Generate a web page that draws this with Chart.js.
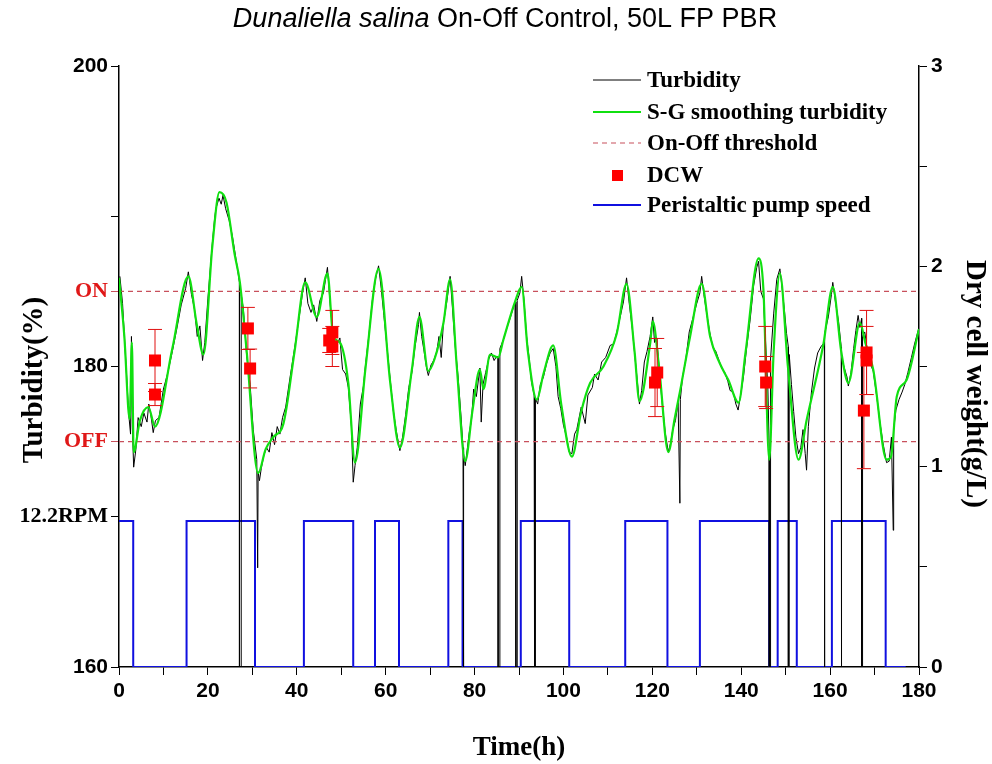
<!DOCTYPE html>
<html>
<head>
<meta charset="utf-8">
<script src="https://cdn.jsdelivr.net/npm/chart.js@4.4.1/dist/chart.umd.min.js"></script>
<style>
html, body { margin: 0; padding: 0; background: #fff; }
#wrap { width: 992px; height: 764px; position: relative; }
</style>
</head>
<body>
<div id="wrap"><canvas id="chart"></canvas></div>
<script>
// S-G smoothed turbidity (%)
var sgTime = [0, 1.2, 2.4, 2.9, 3.3, 4.7, 6.6, 8.1, 12, 15.6, 17.5, 19, 21, 22.6, 24.2, 26, 27.2, 28.7, 31.3, 33, 34.7, 37, 39.5, 41.9, 44.5, 46.9, 48.2, 49.7, 51.6, 53.1, 55.5, 58.4, 61, 63.2, 65.9, 67.6, 69.6, 71, 73, 74.5, 76, 77.9, 79.5, 81.2, 82, 83.5, 85.3, 86.5, 89.1, 90.6, 92, 94, 95.5, 97.7, 99.5, 101.9, 104, 106, 109, 112, 114.2, 116, 117.1, 119.5, 120.1, 121.5, 123.6, 125, 126.2, 128.5, 131.1, 133, 135.2, 137.1, 139.4, 141, 143.9, 145, 146.3, 147.3, 148.7, 150.5, 152.9, 154.7, 158.5, 160.6, 162.5, 164.1, 166.7, 168, 169.7, 172.7, 173.7, 175, 177.2, 180];
var sgTurb = [185.9, 182, 176.5, 181.6, 174.3, 176.4, 177.3, 176.0, 181.2, 186.0, 182.8, 180.8, 188, 191.6, 190.9, 187.5, 185.6, 181.1, 172.9, 174.5, 175.3, 176.2, 181, 185.6, 183.3, 186.2, 182.0, 181.6, 178.9, 173.6, 180, 186.5, 179, 174.6, 179.8, 183.3, 179.7, 180.5, 182.9, 185.8, 180, 173.7, 177, 179.8, 178.5, 180.8, 180.6, 181.8, 184.3, 185.3, 181, 177.8, 179.5, 181.4, 177.5, 174.0, 177, 178.9, 180.0, 182.2, 185.5, 181, 177.7, 181.5, 183.0, 180, 174.3, 176.5, 178.3, 182, 185.5, 182, 180.2, 179.1, 177.6, 181, 187.2, 185.1, 173.8, 181, 186.2, 180, 173.8, 176.4, 181.5, 185.3, 181, 178.9, 182.9, 181.5, 179.8, 173.8, 174, 178, 179.1, 182.5];

// raw turbidity (%), with the short sensor drop-outs
var rawTime = [0.2, 0.8, 1.5, 2.2, 2.6, 2.8, 3.0, 3.3, 3.8, 4.3, 5.0, 5.6, 6.3, 6.7, 7.2, 7.7, 8.2, 9, 10, 11, 12, 13, 14, 15, 15.6, 16.3, 17, 17.6, 18.2, 18.8, 19.3, 20, 21, 21.5, 21.8, 22.5, 23, 23.4, 24, 24.8, 25.5, 26.3, 26.9, 27.1, 27.1, 27.5, 27.5, 28, 28.7, 29.5, 30.2, 31.0, 31.2, 31.3, 31.6, 32, 32.6, 33.2, 33.8, 34.4, 35, 35.6, 36.2, 36.8, 37.5, 38.5, 39.5, 40.5, 41.3, 41.9, 42.5, 43.2, 43.8, 44.5, 45.2, 46, 46.9, 47.5, 48.2, 48.8, 49.7, 50.3, 51, 51.6, 52.3, 52.7, 53.1, 53.6, 54.3, 55, 55.5, 56.3, 57, 57.7, 58.4, 59, 59.6, 60.3, 61, 61.7, 62.4, 63.2, 63.8, 64.5, 65.2, 65.9, 66.6, 67.4, 67.6, 68.1, 68.6, 69.2, 69.6, 70.2, 70.8, 71.5, 72, 72.5, 73, 73.8, 74.5, 75, 75.6, 76.3, 77, 77.4, 77.4, 77.6, 77.6, 77.9, 78.4, 78.8, 79.3, 79.8, 80.4, 81.2, 81.5, 81.9, 82.5, 83.2, 83.8, 84.4, 85.0, 85.3, 85.3, 85.7, 85.7, 86.5, 87.3, 88, 88.6, 89.1, 89.3, 89.3, 89.6, 89.6, 90.2, 90.6, 91.1, 91.7, 92.3, 92.8, 93.4, 93.5, 93.7, 93.7, 94.2, 94.8, 95.5, 96.2, 97, 97.7, 98.3, 98.8, 99.4, 100, 100.7, 101.3, 101.9, 102.5, 103, 104, 104.9, 105.5, 106.5, 107, 107.8, 108.6, 109.5, 110.5, 111.3, 112, 112.7, 113.5, 114.2, 114.8, 115.5, 116.1, 116.7, 117.1, 117.6, 118.2, 118.8, 119.5, 120.1, 120.5, 121, 121.5, 122.2, 122.9, 123.6, 124.1, 124.6, 125.2, 125.8, 126.2, 126.3, 126.8, 127.5, 128.3, 129.2, 130, 130.7, 131.1, 131.6, 132.2, 132.9, 133.6, 134.3, 135, 135.6, 136.3, 137, 137.5, 138.2, 138.8, 139.3, 139.8, 140.5, 141.2, 142, 142.8, 143.5, 143.9, 144.4, 145, 145.5, 146, 146.3, 146.3, 146.6, 146.6, 147.3, 148, 148.7, 149.2, 149.7, 150.2, 150.6, 150.6, 150.8, 150.8, 151.3, 151.8, 152.3, 152.9, 153.4, 153.9, 154.4, 154.7, 155.1, 155.8, 156.5, 157.2, 157.9, 158.7, 158.7, 158.8, 158.8, 159.6, 160.3, 160.6, 161.2, 161.9, 162.5, 162.5, 162.6, 162.6, 163.2, 163.8, 164.1, 164.7, 165.3, 165.8, 166.3, 166.7, 167.1, 167.1, 167.3, 167.3, 167.8, 168.4, 169, 169.7, 170.5, 171.2, 171.9, 172.7, 173.3, 173.8, 174.2, 174.3, 174.8, 175.5, 176.2, 176.8, 177.5, 178.3, 179, 180];
var rawTurb = [186.0, 184.2, 180.5, 176.8, 175.5, 182.0, 176.0, 173.3, 174.5, 176.6, 176.0, 176.9, 176.3, 177.5, 176.7, 175.6, 176.4, 176.6, 178.5, 179.6, 181.0, 182.5, 184.1, 185.2, 186.3, 184.8, 183.8, 182.0, 182.7, 180.4, 181.6, 184.5, 188.2, 189.8, 190.5, 191.2, 190.8, 191.4, 190.5, 189.7, 188.7, 187.2, 186.0, 185.6, 160, 160, 184.8, 183.8, 180.8, 178.8, 175.8, 173.8, 166.6, 173.0, 172.4, 173.2, 174.1, 174.6, 174.3, 175.6, 174.8, 176.0, 175.5, 176.6, 177.3, 179.3, 181.2, 183.2, 184.9, 185.9, 184.2, 183.6, 184.1, 183.0, 184.4, 184.9, 186.6, 184.2, 182.0, 181.3, 181.9, 179.8, 179.5, 178.6, 176.0, 172.3, 173.4, 174.6, 177.5, 178.7, 180.2, 182.3, 184.4, 185.8, 186.7, 185.2, 183.4, 181.3, 179.2, 177.1, 175.7, 174.4, 175.3, 176.8, 178.6, 179.6, 181.3, 182.8, 183.6, 182.0, 181.1, 179.9, 179.4, 180.1, 180.4, 181.0, 182.0, 180.6, 182.9, 184.4, 186.0, 184.0, 181.5, 179.3, 176.5, 174.6, 160, 160, 174.2, 173.4, 174.6, 175.6, 176.4, 178.5, 178.0, 179.9, 176.3, 178.8, 179.6, 180.5, 180.9, 180.4, 180.7, 180.6, 160, 160, 181.2, 181.8, 182.6, 183.2, 183.8, 184.3, 184.3, 160, 160, 184.4, 184.9, 186.0, 184.5, 182.0, 180.5, 179.0, 178.1, 160, 160, 177.9, 177.5, 178.8, 179.3, 180.2, 180.9, 181.2, 180.0, 178.0, 177.2, 176.1, 175.3, 174.3, 174.2, 175.5, 175.8, 177.3, 176.2, 178.1, 178.6, 179.5, 179.1, 180.3, 180.6, 181.4, 181.5, 182.3, 183.2, 184.3, 185.9, 184.2, 182.5, 180.6, 178.8, 177.5, 178.4, 180.3, 181.0, 182.0, 183.3, 181.6, 181.9, 180.0, 177.6, 175.6, 174.3, 174.9, 175.8, 176.4, 177.6, 170.9, 177.8, 179.3, 180.4, 182.3, 183.3, 184.2, 184.9, 186.0, 184.8, 183.6, 182.3, 181.3, 181.0, 180.4, 179.9, 179.6, 179.0, 178.4, 178.3, 177.5, 177.1, 178.0, 179.3, 181.2, 183.1, 185.4, 186.6, 187.0, 185.0, 184.5, 181.5, 178.5, 174.5, 160, 160, 180.5, 183.5, 185.8, 186.5, 185.2, 183.8, 182.2, 181.3, 160, 160, 180.8, 178.8, 177.0, 175.3, 174.2, 174.6, 175.8, 174.2, 173.1, 176.0, 178.3, 179.9, 180.9, 181.3, 181.6, 160, 160, 182.2, 183.3, 184.8, 185.6, 184.3, 183.0, 181.3, 160, 160, 180.6, 179.9, 179.3, 178.7, 179.6, 181.2, 182.4, 183.4, 182.6, 183.2, 160, 160, 182.0, 182.3, 181.0, 180.2, 179.7, 178.0, 176.3, 174.9, 173.6, 173.7, 175.3, 169.1, 175.8, 177.1, 177.8, 178.3, 178.8, 179.6, 180.6, 181.5, 182.6];

// On-Off thresholds (%)
var onLevel = 185;
var offLevel = 175;

// dry cell weight (g/L) with error
var dcwTime = [8.1, 8.1, 29.0, 29.5, 47.3, 48.0, 48.0, 120.6, 121.1, 145.4, 145.6, 167.6, 168.2, 168.2];
var dcwValue = [1.53, 1.36, 1.69, 1.49, 1.63, 1.67, 1.60, 1.42, 1.47, 1.50, 1.42, 1.28, 1.57, 1.53];
var dcwError = [0.155, 0.055, 0.105, 0.097, 0.06, 0.11, 0.10, 0.17, 0.17, 0.20, 0.13, 0.29, 0.21, 0.17];

// peristaltic pump speed (RPM), value holds until next time
var pumpTime = [0, 3.2, 15.2, 30.6, 41.6, 52.7, 57.6, 63.0, 74.1, 77.3, 90.4, 101.3, 113.9, 123.4, 130.7, 146.3, 148.2, 152.5, 160.4, 172.5, 177];
var pumpRpm = [12.2, 0, 12.2, 0, 12.2, 0, 12.2, 0, 12.2, 0, 12.2, 0, 12.2, 0, 12.2, 0, 12.2, 0, 12.2, 0, 0];

// left axis ticks and their labels
var leftTicks = [160, 170, 175, 180, 185, 190, 200];
var leftLabels = ['160', '12.2RPM', 'OFF', '180', 'ON', '', '200'];

var serif = '"Liberation Serif", "Times New Roman", serif';
var narrow = '"Liberation Sans Narrow", "Arial Narrow", "Liberation Sans", Arial, sans-serif';
var sans = '"Liberation Sans", Arial, sans-serif';

function pts(xs, ys) {
    return xs.map(function(x, i) { return {x: x, y: ys[i]}; });
}

function tickVal(c) {
    return c && c.tick ? c.tick.value : null;
}

var errorBars = {
    id: 'errorBars',
    beforeDatasetDraw: function(chart, args) {
        var ds = chart.data.datasets[args.index];
        if (!ds.errors) return;
        var ctx = chart.ctx;
        var xs = chart.scales.x, ys = chart.scales[ds.yAxisID];
        ctx.save();
        ctx.strokeStyle = '#e01010';
        ctx.lineWidth = 1;
        ds.data.forEach(function(p, i) {
            var px = xs.getPixelForValue(p.x);
            var top = ys.getPixelForValue(p.y + ds.errors[i]);
            var bot = ys.getPixelForValue(p.y - ds.errors[i]);
            ctx.beginPath();
            ctx.moveTo(px, top); ctx.lineTo(px, bot);
            ctx.moveTo(px - 7, top); ctx.lineTo(px + 7, top);
            ctx.moveTo(px - 7, bot); ctx.lineTo(px + 7, bot);
            ctx.stroke();
        });
        ctx.restore();
    }
};

var textLayer = {
    id: 'textLayer',
    afterDraw: function(chart) {
        var ctx = chart.ctx;
        ctx.save();
        // title with italic species name
        var a = 'Dunaliella salina', b = ' On-Off Control, 50L FP PBR';
        ctx.fillStyle = '#000';
        ctx.textBaseline = 'alphabetic';
        ctx.font = 'italic 27px ' + sans;
        var wa = ctx.measureText(a).width;
        ctx.font = '27px ' + sans;
        var wb = ctx.measureText(b).width;
        var x0 = 505 - (wa + wb) / 2;
        ctx.font = 'italic 27px ' + sans;
        ctx.fillText(a, x0, 27);
        ctx.font = '27px ' + sans;
        ctx.fillText(b, x0 + wa, 27);

        // y axis titles
        ctx.font = 'bold 29px ' + serif;
        ctx.textAlign = 'center';
        ctx.textBaseline = 'middle';
        ctx.save();
        ctx.translate(35, 380);
        ctx.rotate(-Math.PI / 2);
        ctx.fillText('Turbidity(%)', 0, 0);
        ctx.restore();
        ctx.save();
        ctx.translate(974, 384);
        ctx.rotate(Math.PI / 2);
        ctx.fillText('Dry cell weight(g/L)', 0, 0);
        ctx.restore();

        // legend
        var rows = [
            {text: 'Turbidity', ds: 1},
            {text: 'S-G smoothing turbidity', ds: 0},
            {text: 'On-Off threshold', ds: 2},
            {text: 'DCW', ds: 4},
            {text: 'Peristaltic pump speed', ds: 5}
        ];
        var ly = [80, 112, 143, 175, 205];
        ctx.font = 'bold 23px ' + serif;
        ctx.textAlign = 'left';
        ctx.textBaseline = 'middle';
        rows.forEach(function(r, i) {
            var d = chart.data.datasets[r.ds];
            var y = ly[i];
            if (d.showLine === false) {
                ctx.fillStyle = d.pointBackgroundColor;
                ctx.fillRect(612, y - 5, 11, 11);
            } else {
                ctx.strokeStyle = d.borderColor;
                ctx.lineWidth = d.borderWidth;
                ctx.setLineDash(d.borderDash || []);
                ctx.beginPath();
                ctx.moveTo(593, y); ctx.lineTo(641, y);
                ctx.stroke();
                ctx.setLineDash([]);
            }
            ctx.fillStyle = '#000';
            ctx.fillText(r.text, 647, y + 1);
        });
        ctx.restore();
    }
};

var tickFont = {family: narrow, size: 21, weight: 'bold'};
var labelFont = {family: serif, size: 22, weight: 'bold'};

new Chart(document.getElementById('chart'), {
    type: 'line',
    data: {
        datasets: [
            {label: 'S-G smoothing turbidity', data: pts(sgTime, sgTurb), borderColor: '#10e010', borderWidth: 2.2, pointRadius: 0, cubicInterpolationMode: 'monotone', yAxisID: 'y', order: 2},
            {label: 'Turbidity', data: pts(rawTime, rawTurb), borderColor: '#000000', borderWidth: 1, pointRadius: 0, yAxisID: 'y', order: 4},
            {label: 'On-Off threshold', data: pts([0, 180], [onLevel, onLevel]), borderColor: '#c8505c', borderWidth: 1.2, borderDash: [5, 4], pointRadius: 0, yAxisID: 'y', order: 3},
            {label: 'On-Off threshold', data: pts([0, 180], [offLevel, offLevel]), borderColor: '#c8505c', borderWidth: 1.2, borderDash: [5, 4], pointRadius: 0, yAxisID: 'y', order: 3},
            {label: 'DCW', data: pts(dcwTime, dcwValue), errors: dcwError, showLine: false, pointStyle: 'rect', pointRadius: 8.5, pointBackgroundColor: '#ff0000', pointBorderColor: '#ff0000', pointBorderWidth: 0, yAxisID: 'y1', order: 0},
            {label: 'Peristaltic pump speed', data: pts(pumpTime, pumpRpm), stepped: 'before', borderColor: '#1010e0', borderWidth: 2, pointRadius: 0, yAxisID: 'yPump', order: 5}
        ]
    },
    options: {
        responsive: true,
        maintainAspectRatio: false,
        devicePixelRatio: 1,
        animation: false,
        layout: {padding: {top: 66, left: 0, right: 0, bottom: 0}},
        plugins: {
            legend: {display: false},
            title: {display: false},
            tooltip: {enabled: false}
        },
        scales: {
            x: {
                type: 'linear', min: 0, max: 180,
                afterFit: function(s) { s.height = 97; },
                ticks: {stepSize: 10, color: '#000', font: tickFont, padding: 4, maxRotation: 0, autoSkip: false,
                    callback: function(v) { return v % 20 === 0 ? String(v) : ''; }},
                grid: {drawOnChartArea: false, color: '#000', tickLength: 8},
                border: {color: '#000', width: 1.5},
                title: {display: true, text: 'Time(h)', color: '#000', font: {family: serif, size: 27, weight: 'bold'}, padding: {top: 4, bottom: 0}}
            },
            y: {
                position: 'left', min: 160, max: 200,
                afterFit: function(s) { s.width = 119; },
                afterBuildTicks: function(s) { s.ticks = leftTicks.map(function(v) { return {value: v}; }); },
                ticks: {
                    padding: 3, autoSkip: false,
                    callback: function(v) { return leftLabels[leftTicks.indexOf(v)]; },
                    color: function(c) { var v = tickVal(c); return (v === 175 || v === 185) ? '#e01818' : '#000'; },
                    font: function(c) { var v = tickVal(c); return (v === 170 || v === 175 || v === 185) ? labelFont : tickFont; }
                },
                grid: {drawOnChartArea: false, color: '#000', tickLength: 8,
                    tickColor: function(c) { var v = tickVal(c); return (v === 175 || v === 185) ? '#c8505c' : '#000'; }},
                border: {color: '#000', width: 1.5}
            },
            y1: {
                position: 'right', min: 0, max: 3,
                afterFit: function(s) { s.width = 73; },
                ticks: {stepSize: 0.5, color: '#000', font: tickFont, padding: 4, autoSkip: false,
                    callback: function(v) { return Number.isInteger(v) ? String(v) : ''; }},
                grid: {drawOnChartArea: false, color: '#000', tickLength: 8},
                border: {color: '#000', width: 1.5}
            },
            yPump: {
                position: 'right', min: 0, max: 50.2, display: false
            }
        }
    },
    plugins: [errorBars, textLayer]
});
</script>
</body>
</html>
